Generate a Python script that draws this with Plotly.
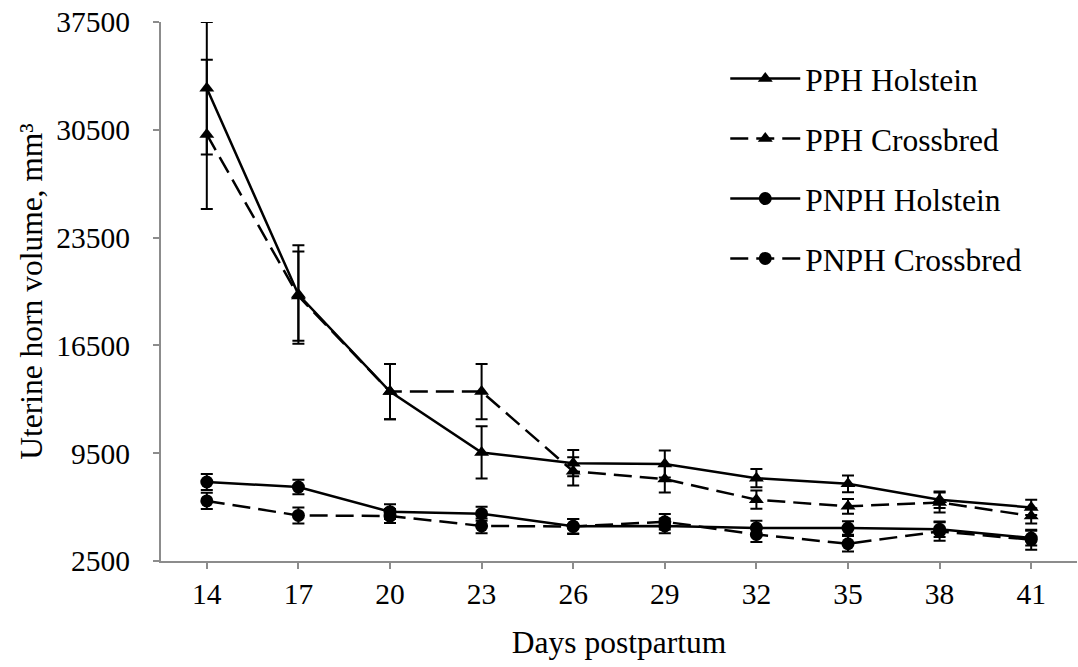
import plotly.graph_objects as go

days = ["14", "17", "20", "23", "26", "29", "32", "35", "38", "41"]

pph_holstein = [33200, 19800, 13500, 9550, 8850, 8800, 7880, 7510, 6480, 5980]
pph_holstein_err = [4300, 3200, 1800, 1700, 850, 880, 590, 540, 540, 500]

pph_crossbred = [30200, 19700, 13500, 13500, 8320, 7820, 6480, 6050, 6300, 5430]
pph_crossbred_err = [4850, 2900, 1800, 1800, 910, 870, 590, 480, 650, 500]

pnph_holstein = [7630, 7300, 5700, 5570, 4760, 4780, 4650, 4640, 4560, 3990]
pnph_holstein_err = [520, 470, 480, 450, 470, 470, 470, 440, 500, 480]

pnph_crossbred = [6400, 5460, 5420, 4780, 4740, 5050, 4220, 3620, 4420, 3880]
pnph_crossbred_err = [530, 520, 450, 480, 480, 500, 480, 500, 600, 650]

y_ticks = [2500, 9500, 16500, 23500, 30500, 37500]
y_tick_labels = ["2500", "9500", "16500", "23500", "30500", "37500"]

FONT = '"Liberation Serif", "Times New Roman", serif'
DASH = "18px,8px"

series = [
    ("PPH Holstein", pph_holstein, pph_holstein_err, "solid", "triangle-up"),
    ("PPH Crossbred", pph_crossbred, pph_crossbred_err, DASH, "triangle-up"),
    ("PNPH Holstein", pnph_holstein, pnph_holstein_err, "solid", "circle"),
    ("PNPH Crossbred", pnph_crossbred, pnph_crossbred_err, DASH, "circle"),
]

fig = go.Figure()
for i, (name, vals, errs, dash, sym) in enumerate(series):
    fig.add_trace(go.Scatter(
        x=days, y=vals, name=name, mode="lines+markers",
        line=dict(color="black", width=2.5, dash=dash),
        marker=dict(symbol=sym, size=13, color="black"),
        error_y=dict(type="data", array=errs, visible=True,
                     color="black", thickness=2, width=6),
        legendgroup=f"g{i}",
    ))

fig.update_layout(
    width=1078, height=667,
    margin=dict(l=161, r=1, t=22, b=106),
    paper_bgcolor="white", plot_bgcolor="white",
    font=dict(family=FONT, size=30, color="black"),
    showlegend=True,
    legend=dict(
        x=0.616, y=0.945, xanchor="left", yanchor="top",
        font=dict(family=FONT, size=31.5, color="black"),
        itemwidth=70, tracegroupgap=16, bgcolor="rgba(0,0,0,0)",
    ),
    xaxis=dict(
        type="category", range=[-0.5, 9.5],
        showline=True, linecolor="#8c8c8c", linewidth=2,
        ticks="outside", ticklen=6, tickcolor="#8c8c8c", tickwidth=2,
        showgrid=False, zeroline=False,
        tickfont=dict(family=FONT, size=29.5),
        title=dict(text="Days postpartum", font=dict(family=FONT, size=31.5), standoff=22),
    ),
    yaxis=dict(
        range=[2500, 37500], tickvals=y_ticks, ticktext=y_tick_labels,
        showline=True, linecolor="#8c8c8c", linewidth=2,
        ticks="outside", ticklen=6, tickcolor="#8c8c8c", tickwidth=2,
        showgrid=False, zeroline=False,
        tickfont=dict(family=FONT, size=29.5),
        ticklabelstandoff=17,
        title=dict(text="Uterine horn volume, mm³", font=dict(family=FONT, size=31.5), standoff=4),
    ),
)

fig.write_html("out.html")
